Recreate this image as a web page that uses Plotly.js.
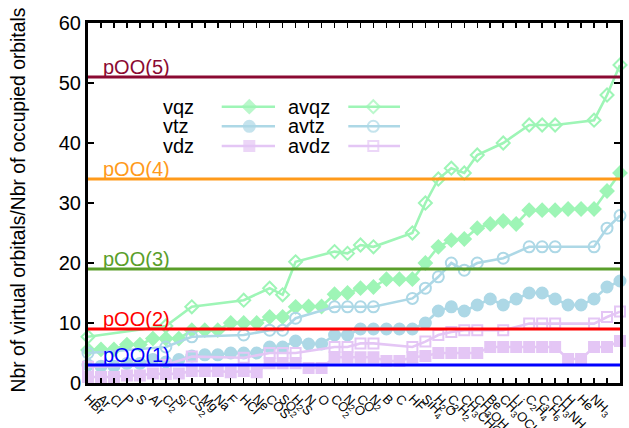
<!DOCTYPE html>
<html>
<head>
<meta charset="utf-8">
<script src="https://cdn.plot.ly/plotly-3.0.1.min.js"></script>
<style>
html,body{margin:0;padding:0;background:#fff;}
#chart{width:629px;height:428px;}
</style>
</head>
<body>
<div id="chart"></div>
<script>
// ---------- data ----------
const categories = ["HBr","Ar","Cl","P","S","Al","Cl<sub>2</sub>","Si","CS<sub>2</sub>","Mg","Na","F","HCl","Ne",
  "COS","SO<sub>2</sub>","H<sub>2</sub>S","N","O","CO<sub>2</sub>","N<sub>2</sub>O","CO","N<sub>2</sub>","B","C","HF",
  "SiH<sub>4</sub>","H<sub>2</sub>O","C<sub>2</sub>H<sub>2</sub>","CH<sub>3</sub>CHO","CH<sub>3</sub>OH","Be",
  "CH<sub>3</sub>OCH<sub>3</sub>","Li","C<sub>2</sub>H<sub>4</sub>","C<sub>3</sub>H<sub>6</sub>","CH<sub>3</sub>NH<sub>2</sub>",
  "H","He","NH<sub>3</sub>","C<sub>2</sub>H<sub>6</sub>","CH<sub>4</sub>"];

const vqz  = [5.5,5.6,5.6,6.4,6.4,7.4,7.4,7.4,8.8,8.8,8.8,10,10,10,11,11,12.7,12.75,12.75,14.8,15,15.8,16,17.3,17.3,17.3,
              20,22.7,23.8,24,25.8,26.5,27,26.5,28.8,28.8,28.8,29,29,29,32,35];
const vtz  = [3,2.8,2.8,3.25,3.25,3.9,3.5,3.9,4.5,4.7,4.7,5,5,5,6,6,7,6.5,6.5,8,8,9,9,9,9,9,
              10,12,12.7,12,13,14,13,14,15,15,14,13,13,14,16,17];
const vdz  = [1,1,1,1.25,1.25,1.57,1.5,1.57,2,2,2,1.8,2,1.8,3.3,3.3,3.3,2.5,2.5,4.3,4.3,4.3,4.3,3.67,3.67,4.3,
              4.5,5,5,5,5,6,6,6,6,6,6,4,4,6,6,7];
const avqz = [7.7,null,null,null,null,null,9.5,null,12.7,null,null,null,13.8,null,15.8,14.7,20.2,null,null,21.9,21.6,23,22.7,null,null,25,
              30,34,35.8,35,38,null,40,null,43,43,43,null,null,43.8,48,53];
const avtz = [5,null,null,null,null,null,6,null,7.7,null,null,null,8,null,8.8,8.8,10.8,null,null,12.7,12.7,12.7,12.7,null,null,14.1,
              15.8,17.7,20,18.8,20,null,20.8,null,22.7,22.7,22.7,null,null,22.7,25.8,27.9];
const avdz = [2.7,null,null,null,null,null,3,null,4.4,null,null,null,4.2,null,5,5,5,null,null,6,6,6.6,6.6,null,null,6,
              6.9,8,8.5,8.8,8.8,null,8.8,null,9.9,9.9,9.9,null,null,9.9,11,11.9];

const pooNames  = ["pOO(1)","pOO(2)","pOO(3)","pOO(4)","pOO(5)"];
const pooValues = [3,9,19,34,51];
const yTicks = [0,10,20,30,40,50,60];
const seriesNames = ["vqz","vtz","vdz","avqz","avtz","avdz"];
const yTitle = "Nbr of virtual orbitals/Nbr of occupied orbitals";

// ---------- styles ----------
const GREEN = "#9ef5b6", BLUE = "#add8e6", PINK = "#e4c6f5";
const pooColors = ["#0000ff","#ff0000","#5a9e2a","#ff9a1a","#8b0a32"];
const FONT = "Liberation Sans, Arial, sans-serif";

const idx = categories.map((_, i) => i);
const styleOf = {
  vqz:  {color: GREEN, symbol: "diamond",      size: 10},
  vtz:  {color: BLUE,  symbol: "circle",       size: 11},
  vdz:  {color: PINK,  symbol: "square",       size: 10},
  avqz: {color: GREEN, symbol: "diamond-open", size: 10},
  avtz: {color: BLUE,  symbol: "circle-open",  size: 11},
  avdz: {color: PINK,  symbol: "square-open",  size: 10}
};
const values = {vqz, vtz, vdz, avqz, avtz, avdz};

const traces = [];
seriesNames.forEach(n => {
  const s = styleOf[n];
  traces.push({
    x: idx, y: values[n], type: "scatter", mode: "lines+markers", name: n,
    connectgaps: true, cliponaxis: false,
    line: {color: s.color, width: 2.6},
    marker: {symbol: s.symbol, size: s.size, color: s.color, line: {color: s.color, width: 2}},
    showlegend: false, hoverinfo: "skip"
  });
});
pooValues.forEach((v, i) => {
  traces.push({
    x: [0, categories.length - 1], y: [v, v], type: "scatter", mode: "lines",
    line: {color: pooColors[i], width: 3}, showlegend: false, hoverinfo: "skip"
  });
});

// legend samples (drawn on a hidden pixel-space axis pair)
const legendRows = [106.7, 126.3, 146];
const legendCols = [{text: 161.7, l0: 221.7, l1: 275, m: 249.3}, {text: 286.7, l0: 348.3, l1: 400, m: 373.3}];
const annotations = [];
seriesNames.forEach((n, i) => {
  const col = legendCols[Math.floor(i / 3)], row = legendRows[i % 3], s = styleOf[n];
  traces.push({
    x: [col.l0, col.m, col.l1], y: [row, row, row], xaxis: "x2", yaxis: "y2",
    type: "scatter", mode: "lines+markers", showlegend: false, hoverinfo: "skip",
    line: {color: s.color, width: 2.6},
    marker: {symbol: s.symbol, size: [0, s.size, 0], color: s.color, line: {color: s.color, width: 2}}
  });
  annotations.push({
    x: col.text, y: row, xref: "x2", yref: "y2", text: n, showarrow: false,
    xanchor: "left", yanchor: "middle", borderpad: 0, font: {family: FONT, size: 20, color: "#000"}
  });
});
pooNames.forEach((name, i) => {
  annotations.push({
    x: 0.026, y: pooValues[i], xref: "paper", yref: "y", text: name, showarrow: false,
    xanchor: "left", yanchor: "bottom", yshift: -2, borderpad: 0,
    font: {family: FONT, size: 20, color: pooColors[i]}
  });
});
// y-axis title placed like the reference
annotations.push({
  x: -0.1316, y: 0.51, xref: "paper", yref: "paper", text: yTitle, textangle: -90,
  showarrow: false, xanchor: "center", yanchor: "middle", borderpad: 0,
  font: {family: FONT, size: 19.3, color: "#000"}
});

const layout = {
  width: 629, height: 428,
  margin: {l: 88, r: 9, t: 23, b: 45},
  paper_bgcolor: "#fff", plot_bgcolor: "#fff",
  showlegend: false,
  font: {family: FONT, color: "#000"},
  xaxis: {
    range: [0, categories.length - 1], tickmode: "array", tickvals: idx, ticktext: categories,
    tickangle: 45, tickfont: {family: FONT, size: 13, color: "#000"},
    ticks: "inside", ticklen: 5, tickwidth: 1.5, tickcolor: "#000",
    showline: true, linecolor: "#000", linewidth: 3, mirror: "allticks",
    showgrid: false, zeroline: false, automargin: false
  },
  yaxis: {
    range: [0, 60], tickvals: yTicks, ticks: "inside", ticklen: 6, tickwidth: 1.5, tickcolor: "#000",
    tickfont: {family: FONT, size: 20, color: "#000"},
    showline: true, linecolor: "#000", linewidth: 3, mirror: "allticks",
    showgrid: false, zeroline: false, automargin: false
  },
  xaxis2: {domain: [0, 1], range: [88, 620], overlaying: "x", anchor: "y2", visible: false, fixedrange: true},
  yaxis2: {domain: [0, 1], range: [383, 23], overlaying: "y", anchor: "x2", visible: false, fixedrange: true},
  annotations: annotations
};

Plotly.newPlot("chart", traces, layout, {displayModeBar: false, staticPlot: true});
</script>
</body>
</html>
